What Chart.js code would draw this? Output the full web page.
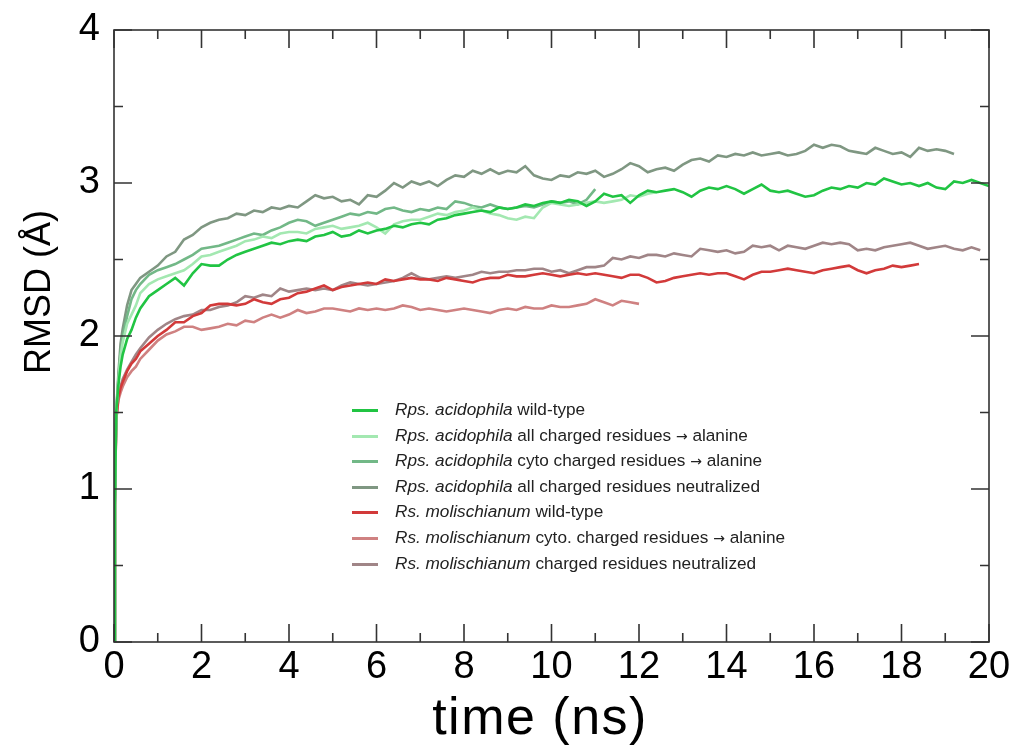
<!DOCTYPE html>
<html>
<head>
<meta charset="utf-8">
<script src="https://cdn.jsdelivr.net/npm/chart.js@4"></script>
<style>
  body { margin: 0; background: #fff; }
  #wrap { position: relative; width: 1015px; height: 756px; }
  #legend {
    position: absolute; left: 352px; top: 397px; margin: 0; padding: 0;
    list-style: none; font-family: "Liberation Sans", Arial, sans-serif;
    font-size: 17.2px; color: #222;
  }
  #legend li { height: 25.6px; line-height: 25.6px; white-space: pre; }
  #legend .sw { display: inline-block; width: 26px; height: 3px; margin-right: 17px; vertical-align: middle; }
  #legend .arr { font-family: "DejaVu Sans", sans-serif; font-size: 14px; }
</style>
</head>
<body>
<div id="wrap">
  <canvas id="rmsdChart" width="1015" height="756"></canvas>
  <ul id="legend"></ul>
</div>
<script>
// simulation time (ns)
const timeNs = [0, 0.02, 0.05, 0.1, 0.15, 0.2, 0.3, 0.4, 0.5, 0.6, 0.8,
  1.0, 1.2, 1.4, 1.6, 1.8, 2.0, 2.2, 2.4, 2.6, 2.8, 3.0, 3.2, 3.4, 3.6, 3.8,
  4.0, 4.2, 4.4, 4.6, 4.8, 5.0, 5.2, 5.4, 5.6, 5.8, 6.0, 6.2, 6.4, 6.6, 6.8,
  7.0, 7.2, 7.4, 7.6, 7.8, 8.0, 8.2, 8.4, 8.6, 8.8, 9.0, 9.2, 9.4, 9.6, 9.8,
  10.0, 10.2, 10.4, 10.6, 10.8, 11.0, 11.2, 11.4, 11.6, 11.8, 12.0, 12.2, 12.4, 12.6, 12.8,
  13.0, 13.2, 13.4, 13.6, 13.8, 14.0, 14.2, 14.4, 14.6, 14.8, 15.0, 15.2, 15.4, 15.6, 15.8,
  16.0, 16.2, 16.4, 16.6, 16.8, 17.0, 17.2, 17.4, 17.6, 17.8, 18.0, 18.2, 18.4, 18.6, 18.8,
  19.0, 19.2, 19.4, 19.6, 19.8, 20.0];

// RMSD (Å) per simulation
const rpsWT = [0, 0.9, 1.5, 1.68, 1.8, 1.88, 1.98, 2.04, 2.12, 2.18, 2.26,
  2.30, 2.34, 2.38, 2.33, 2.41, 2.47, 2.46, 2.46, 2.50, 2.53, 2.55, 2.57, 2.59, 2.61, 2.60,
  2.62, 2.63, 2.62, 2.65, 2.66, 2.68, 2.65, 2.66, 2.69, 2.67, 2.69, 2.70, 2.72, 2.71, 2.73,
  2.74, 2.73, 2.76, 2.77, 2.79, 2.80, 2.81, 2.82, 2.81, 2.84, 2.83, 2.84, 2.86, 2.85, 2.87,
  2.88, 2.87, 2.89, 2.88, 2.85, 2.88, 2.93, 2.91, 2.92, 2.87, 2.92, 2.95, 2.94, 2.95, 2.96,
  2.94, 2.91, 2.95, 2.97, 2.96, 2.98, 2.96, 2.93, 2.96, 2.99, 2.95, 2.94, 2.95, 2.93, 2.91,
  2.92, 2.95, 2.97, 2.96, 2.98, 2.97, 3.00, 2.99, 3.03, 3.01, 2.99, 3.00, 2.98, 3.00, 2.97,
  2.96, 3.01, 3.00, 3.02, 3.00, 2.98];
const rpsAllAla = [0, 0.9, 1.5, 1.7, 1.87, 1.96, 2.08, 2.14, 2.2, 2.28, 2.34,
  2.37, 2.39, 2.41, 2.43, 2.47, 2.52, 2.53, 2.55, 2.57, 2.59, 2.62, 2.63, 2.65, 2.64, 2.67,
  2.68, 2.68, 2.67, 2.70, 2.71, 2.72, 2.70, 2.71, 2.72, 2.74, 2.71, 2.67, 2.73, 2.75, 2.76,
  2.76, 2.78, 2.80, 2.79, 2.81, 2.82, 2.84, 2.82, 2.80, 2.79, 2.77, 2.76, 2.78, 2.77, 2.84,
  2.87, 2.86, 2.85, 2.86, 2.87, 2.88, 2.87, 2.88, 2.89, 2.92, 2.91, 2.93, 2.94];
const rpsCytoAla = [0, 0.9, 1.5, 1.72, 1.9, 2.0, 2.13, 2.24, 2.3, 2.34, 2.40,
  2.43, 2.45, 2.47, 2.50, 2.53, 2.57, 2.58, 2.59, 2.61, 2.63, 2.65, 2.67, 2.66, 2.69, 2.71,
  2.74, 2.76, 2.75, 2.72, 2.74, 2.76, 2.78, 2.80, 2.79, 2.81, 2.80, 2.83, 2.84, 2.82, 2.81,
  2.83, 2.82, 2.84, 2.83, 2.88, 2.87, 2.85, 2.84, 2.86, 2.84, 2.83, 2.84, 2.85, 2.84, 2.86,
  2.88, 2.87, 2.88, 2.86, 2.89, 2.96];
const rpsNeutral = [0, 0.9, 1.5, 1.75, 1.95, 2.05, 2.2, 2.3, 2.34, 2.38, 2.42,
  2.46, 2.52, 2.55, 2.63, 2.66, 2.71, 2.74, 2.76, 2.77, 2.80, 2.79, 2.82, 2.81, 2.84, 2.83,
  2.85, 2.84, 2.88, 2.92, 2.90, 2.91, 2.88, 2.89, 2.86, 2.92, 2.91, 2.95, 3.00, 2.97, 3.01,
  2.99, 3.01, 2.98, 3.02, 3.05, 3.04, 3.08, 3.06, 3.09, 3.06, 3.08, 3.07, 3.11, 3.05, 3.03,
  3.02, 3.05, 3.04, 3.07, 3.06, 3.08, 3.04, 3.06, 3.09, 3.13, 3.11, 3.07, 3.09, 3.10, 3.08,
  3.12, 3.15, 3.16, 3.14, 3.18, 3.17, 3.19, 3.18, 3.20, 3.18, 3.19, 3.20, 3.18, 3.19, 3.21,
  3.25, 3.23, 3.25, 3.24, 3.21, 3.20, 3.19, 3.23, 3.21, 3.19, 3.20, 3.17, 3.23, 3.21, 3.22,
  3.21, 3.19];
const rsWT = [0, 0.9, 1.45, 1.6, 1.66, 1.7, 1.77, 1.82, 1.85, 1.9, 1.95,
  2.00, 2.04, 2.09, 2.09, 2.13, 2.15, 2.20, 2.21, 2.21, 2.20, 2.21, 2.24, 2.22, 2.21, 2.24,
  2.25, 2.28, 2.29, 2.31, 2.33, 2.30, 2.32, 2.33, 2.34, 2.35, 2.34, 2.37, 2.36, 2.37, 2.38,
  2.37, 2.37, 2.36, 2.38, 2.37, 2.36, 2.35, 2.37, 2.38, 2.38, 2.40, 2.39, 2.39, 2.40, 2.41,
  2.40, 2.39, 2.40, 2.41, 2.40, 2.41, 2.40, 2.39, 2.38, 2.40, 2.40, 2.38, 2.35, 2.36, 2.38,
  2.39, 2.40, 2.41, 2.40, 2.41, 2.41, 2.39, 2.37, 2.40, 2.42, 2.42, 2.43, 2.44, 2.43, 2.42,
  2.41, 2.43, 2.44, 2.45, 2.46, 2.43, 2.41, 2.43, 2.44, 2.46, 2.45, 2.46, 2.47];
const rsCytoAla = [0, 0.9, 1.45, 1.58, 1.63, 1.67, 1.73, 1.77, 1.8, 1.85, 1.91,
  1.97, 2.01, 2.03, 2.06, 2.06, 2.04, 2.05, 2.06, 2.08, 2.07, 2.10, 2.09, 2.12, 2.14, 2.12,
  2.14, 2.17, 2.15, 2.16, 2.18, 2.18, 2.17, 2.16, 2.18, 2.17, 2.18, 2.17, 2.18, 2.20, 2.19,
  2.17, 2.18, 2.17, 2.16, 2.17, 2.18, 2.17, 2.16, 2.15, 2.17, 2.18, 2.17, 2.19, 2.18, 2.18,
  2.20, 2.19, 2.19, 2.20, 2.21, 2.24, 2.22, 2.20, 2.23, 2.22, 2.21];
const rsNeutral = [0, 0.9, 1.45, 1.6, 1.67, 1.72, 1.78, 1.83, 1.88, 1.92, 1.99,
  2.04, 2.08, 2.11, 2.13, 2.14, 2.17, 2.17, 2.19, 2.20, 2.22, 2.26, 2.25, 2.27, 2.26, 2.31,
  2.29, 2.30, 2.31, 2.30, 2.31, 2.30, 2.33, 2.35, 2.34, 2.33, 2.34, 2.35, 2.36, 2.38, 2.41,
  2.38, 2.37, 2.38, 2.39, 2.38, 2.39, 2.40, 2.42, 2.41, 2.42, 2.42, 2.43, 2.43, 2.44, 2.44,
  2.42, 2.43, 2.41, 2.43, 2.45, 2.45, 2.46, 2.51, 2.50, 2.52, 2.51, 2.53, 2.53, 2.52, 2.54,
  2.53, 2.52, 2.57, 2.56, 2.55, 2.56, 2.54, 2.55, 2.59, 2.58, 2.59, 2.56, 2.59, 2.58, 2.57,
  2.59, 2.61, 2.60, 2.61, 2.60, 2.56, 2.57, 2.56, 2.58, 2.59, 2.60, 2.61, 2.59, 2.57, 2.58,
  2.59, 2.57, 2.56, 2.58, 2.56];

const seriesValues = [rpsWT, rpsAllAla, rpsCytoAla, rpsNeutral, rsWT, rsCytoAla, rsNeutral];
const seriesColors = ['#21c443', '#a3e8b1', '#72b887', '#7f9782', '#d23a3a', '#cf8181', '#a08587'];
const legendSpecies = ['Rps. acidophila', 'Rps. acidophila', 'Rps. acidophila', 'Rps. acidophila',
  'Rs. molischianum', 'Rs. molischianum', 'Rs. molischianum'];
const legendDesc = ['wild-type', 'all charged residues \u2192 alanine', 'cyto charged residues \u2192 alanine',
  'all charged residues neutralized', 'wild-type', 'cyto. charged residues \u2192 alanine',
  'charged residues neutralized'];

const xTicks = [0, 2, 4, 6, 8, 10, 12, 14, 16, 18, 20];
const yTicks = [0, 1, 2, 3, 4];

const FONT = '"Liberation Sans", Arial, Helvetica, sans-serif';
const AXIS_COLOR = '#333';

// inward ticks on all four sides + box + axis titles
const frameTicks = {
    id: 'frameTicks',
    afterDraw(chart) {
        const ctx = chart.ctx;
        const a = chart.chartArea;
        const xs = chart.scales.x;
        const ys = chart.scales.y;
        ctx.save();
        ctx.strokeStyle = AXIS_COLOR;
        ctx.lineWidth = 1.6;
        ctx.strokeRect(a.left, a.top, a.right - a.left, a.bottom - a.top);
        ctx.beginPath();
        for (let i = 0; i < xTicks.length; i++) {
            const px = xs.getPixelForValue(xTicks[i]);
            ctx.moveTo(px, a.bottom); ctx.lineTo(px, a.bottom - 18);
            ctx.moveTo(px, a.top); ctx.lineTo(px, a.top + 18);
            if (i < xTicks.length - 1) {
                const pm = xs.getPixelForValue((xTicks[i] + xTicks[i + 1]) / 2);
                ctx.moveTo(pm, a.bottom); ctx.lineTo(pm, a.bottom - 9);
                ctx.moveTo(pm, a.top); ctx.lineTo(pm, a.top + 9);
            }
        }
        for (let i = 0; i < yTicks.length; i++) {
            const py = ys.getPixelForValue(yTicks[i]);
            ctx.moveTo(a.left, py); ctx.lineTo(a.left + 18, py);
            ctx.moveTo(a.right, py); ctx.lineTo(a.right - 18, py);
            if (i < yTicks.length - 1) {
                const pm = ys.getPixelForValue((yTicks[i] + yTicks[i + 1]) / 2);
                ctx.moveTo(a.left, pm); ctx.lineTo(a.left + 9, pm);
                ctx.moveTo(a.right, pm); ctx.lineTo(a.right - 9, pm);
            }
        }
        ctx.stroke();

        ctx.fillStyle = '#000';
        ctx.textAlign = 'center';
        ctx.textBaseline = 'middle';
        ctx.font = '52px ' + FONT;
        ctx.letterSpacing = '1.5px';
        ctx.fillText('time (ns)', 540, 720);
        ctx.letterSpacing = '0px';
        ctx.translate(40, 292);
        ctx.rotate(-Math.PI / 2);
        ctx.font = '36px ' + FONT;
        ctx.fillText('RMSD (\u00C5)', 0, 0);
        ctx.restore();
    }
};

// html legend with italic species names
const htmlLegend = {
    id: 'htmlLegend',
    afterUpdate(chart) {
        const ul = document.getElementById('legend');
        ul.innerHTML = '';
        chart.data.datasets.forEach(function(ds, i) {
            const li = document.createElement('li');
            const sw = document.createElement('span');
            sw.className = 'sw';
            sw.style.background = ds.borderColor;
            const sp = document.createElement('i');
            sp.textContent = legendSpecies[i];
            li.appendChild(sw);
            li.appendChild(sp);
            const parts = (' ' + legendDesc[i]).split('\u2192');
            li.appendChild(document.createTextNode(parts[0]));
            if (parts.length > 1) {
                const arr = document.createElement('span');
                arr.className = 'arr';
                arr.textContent = '\u2192';
                li.appendChild(arr);
                li.appendChild(document.createTextNode(parts[1]));
            }
            ul.appendChild(li);
        });
    }
};

const datasets = seriesValues.map(function(vals, i) {
    return {
        label: legendSpecies[i] + ' ' + legendDesc[i],
        data: vals.map(function(v, j) { return { x: timeNs[j], y: v }; }),
        borderColor: seriesColors[i],
        backgroundColor: seriesColors[i],
        borderWidth: 2.6,
        pointRadius: 0,
        tension: 0,
        fill: false
    };
});

new Chart(document.getElementById('rmsdChart'), {
    type: 'line',
    data: { datasets: datasets },
    plugins: [frameTicks, htmlLegend],
    options: {
        responsive: false,
        animation: false,
        devicePixelRatio: 1,
        layout: { padding: { top: 30, right: 26, left: 0, bottom: 0 } },
        plugins: { legend: { display: false }, tooltip: { enabled: false } },
        scales: {
            x: {
                type: 'linear',
                min: 0,
                max: 20,
                afterFit: function(scale) {
                    scale.height = 114;
                    scale.paddingLeft = 0;
                    scale.paddingRight = 0;
                },
                afterBuildTicks: function(scale) { scale.ticks = xTicks.map(function(v) { return { value: v }; }); },
                grid: { display: false, drawTicks: false },
                border: { display: false },
                ticks: { color: '#000', padding: 3, maxRotation: 0, font: { family: FONT, size: 38 } }
            },
            y: {
                min: 0,
                max: 4,
                afterFit: function(scale) {
                    scale.width = 114;
                    scale.paddingTop = 0;
                    scale.paddingBottom = 0;
                },
                afterBuildTicks: function(scale) { scale.ticks = yTicks.map(function(v) { return { value: v }; }); },
                grid: { display: false, drawTicks: false },
                border: { display: false },
                ticks: { color: '#000', padding: 14, font: { family: FONT, size: 38 } }
            }
        }
    }
});
</script>
</body>
</html>
